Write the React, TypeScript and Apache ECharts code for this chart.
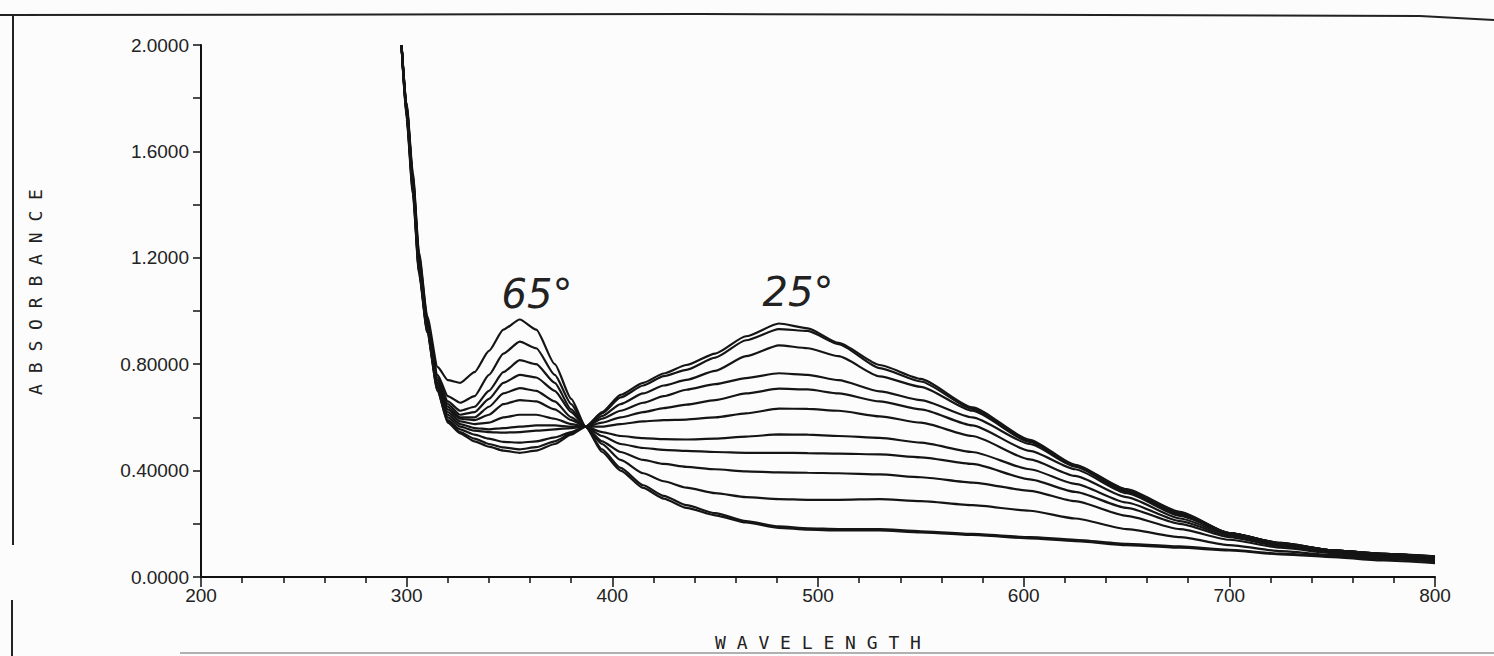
import React, { useEffect, useRef } from "react";
import * as echarts from "echarts";

// Wavelength sampling points (nm)
const wavelengths = [
  297.5, 300, 303, 306, 310, 315, 320, 326, 333, 340, 347, 355, 363, 372, 380, 387, 395, 404, 415, 425,
  436, 450, 465, 481, 495, 510, 530, 550, 575, 603, 625, 650, 676, 700, 725, 750, 775, 800,
];

// Absorbance spectra, from the 65° trace (c1) down to the 25° trace (c12)
const c1 = [2.0, 1.78, 1.52, 1.22, 0.98, 0.79, 0.74, 0.73, 0.77, 0.85, 0.93, 0.968, 0.93, 0.8, 0.67, 0.565, 0.47, 0.4, 0.335, 0.295, 0.26, 0.232, 0.205, 0.185, 0.178, 0.175, 0.175, 0.168, 0.158, 0.145, 0.135, 0.12, 0.11, 0.1, 0.085, 0.075, 0.062, 0.052];
const c2 = [2.0, 1.77, 1.51, 1.21, 0.97, 0.76, 0.68, 0.655, 0.68, 0.76, 0.84, 0.885, 0.86, 0.76, 0.65, 0.565, 0.48, 0.41, 0.345, 0.305, 0.27, 0.24, 0.21, 0.19, 0.183, 0.18, 0.18, 0.172, 0.162, 0.15, 0.14, 0.125, 0.115, 0.102, 0.088, 0.078, 0.067, 0.058];
const c3 = [2.0, 1.77, 1.5, 1.2, 0.96, 0.75, 0.66, 0.625, 0.64, 0.7, 0.77, 0.815, 0.8, 0.73, 0.63, 0.565, 0.5, 0.44, 0.39, 0.36, 0.336, 0.315, 0.3, 0.293, 0.29, 0.29, 0.293, 0.285, 0.27, 0.249, 0.22, 0.18, 0.15, 0.12, 0.097, 0.083, 0.072, 0.062];
const c4 = [2.0, 1.76, 1.5, 1.19, 0.96, 0.74, 0.65, 0.61, 0.62, 0.67, 0.73, 0.76, 0.75, 0.7, 0.62, 0.565, 0.51, 0.47, 0.44, 0.425, 0.414, 0.405, 0.397, 0.393, 0.392, 0.39, 0.386, 0.375, 0.355, 0.324, 0.285, 0.23, 0.18, 0.14, 0.11, 0.09, 0.077, 0.066];
const c5 = [2.0, 1.76, 1.49, 1.19, 0.95, 0.73, 0.64, 0.6, 0.6, 0.64, 0.69, 0.71, 0.7, 0.66, 0.6, 0.565, 0.53, 0.5, 0.485, 0.478, 0.474, 0.47, 0.467, 0.467, 0.466, 0.464, 0.461, 0.45, 0.425, 0.367, 0.32, 0.26, 0.2, 0.15, 0.115, 0.095, 0.08, 0.068];
const c6 = [2.0, 1.75, 1.49, 1.18, 0.95, 0.73, 0.63, 0.595, 0.59, 0.61, 0.65, 0.665, 0.66, 0.63, 0.59, 0.565, 0.545, 0.53, 0.522, 0.518, 0.517, 0.52, 0.528, 0.536, 0.535, 0.53, 0.523, 0.505, 0.47, 0.405, 0.35, 0.28, 0.21, 0.155, 0.12, 0.098, 0.082, 0.07];
const c7 = [2.0, 1.75, 1.48, 1.17, 0.94, 0.72, 0.62, 0.585, 0.575, 0.58, 0.6, 0.61, 0.61, 0.595, 0.575, 0.565, 0.565, 0.575, 0.585, 0.59, 0.592, 0.6, 0.615, 0.633, 0.632, 0.625, 0.604, 0.58, 0.53, 0.442, 0.38, 0.3, 0.22, 0.16, 0.125, 0.1, 0.085, 0.072];
const c8 = [2.0, 1.74, 1.47, 1.17, 0.94, 0.72, 0.61, 0.575, 0.56, 0.555, 0.56, 0.565, 0.57, 0.57, 0.565, 0.565, 0.58, 0.6, 0.62, 0.635, 0.648, 0.665, 0.69, 0.708, 0.705, 0.69, 0.66, 0.63, 0.57, 0.474, 0.405, 0.315, 0.23, 0.165, 0.128, 0.1, 0.087, 0.074];
const c9 = [2.0, 1.74, 1.47, 1.16, 0.93, 0.71, 0.6, 0.565, 0.55, 0.545, 0.543, 0.545, 0.55, 0.555, 0.56, 0.565, 0.595, 0.625, 0.655, 0.68, 0.704, 0.725, 0.748, 0.766, 0.76, 0.74, 0.698, 0.665, 0.6, 0.5, 0.415, 0.32, 0.235, 0.165, 0.128, 0.1, 0.087, 0.075];
const c10 = [2.0, 1.73, 1.46, 1.15, 0.93, 0.71, 0.59, 0.555, 0.535, 0.52, 0.508, 0.505, 0.51, 0.525, 0.545, 0.565, 0.605, 0.65, 0.69, 0.72, 0.741, 0.775, 0.83, 0.871, 0.86, 0.83, 0.754, 0.715, 0.625, 0.508, 0.418, 0.325, 0.24, 0.165, 0.126, 0.1, 0.087, 0.076];
const c11 = [2.0, 1.73, 1.45, 1.15, 0.92, 0.7, 0.585, 0.545, 0.52, 0.5, 0.487, 0.48, 0.488, 0.51, 0.54, 0.565, 0.615, 0.675, 0.72, 0.755, 0.779, 0.825, 0.89, 0.932, 0.925, 0.875, 0.785, 0.735, 0.632, 0.512, 0.42, 0.328, 0.243, 0.165, 0.126, 0.1, 0.087, 0.077];
const c12 = [2.0, 1.72, 1.44, 1.14, 0.92, 0.7, 0.58, 0.54, 0.51, 0.49, 0.475, 0.467, 0.475, 0.5, 0.535, 0.565, 0.62, 0.685, 0.73, 0.765, 0.797, 0.84, 0.905, 0.953, 0.935, 0.88, 0.797, 0.745, 0.638, 0.516, 0.422, 0.33, 0.245, 0.165, 0.126, 0.1, 0.087, 0.078];

const curves = [c1, c2, c3, c4, c5, c6, c7, c8, c9, c10, c11, c12];

const yTickValues = [0, 0.4, 0.8, 1.2, 1.6, 2.0];
const yTickLabels = ["0.0000", "0.40000", "0.80000", "1.2000", "1.6000", "2.0000"];

const xAxisTitle = "W A V E L E N G T H";
const yAxisTitle = "A B S O R B A N C E";
const annotations = ["65°", "25°"];

export default function App() {
  const ref = useRef<HTMLDivElement>(null);

  useEffect(() => {
    if (!ref.current) return;
    const chart = echarts.init(ref.current, null, { renderer: "svg" });
    const labelFont = "'Liberation Sans', Arial, sans-serif";
    const monoFont = "'DejaVu Sans Mono', monospace";

    chart.setOption({
      animation: false,
      backgroundColor: "#fcfcfc",
      grid: { left: 201, right: 59, top: 45, bottom: 76, containLabel: false },
      xAxis: {
        type: "value",
        min: 200,
        max: 800,
        interval: 100,
        name: xAxisTitle,
        nameLocation: "middle",
        nameGap: 56,
        nameTextStyle: { fontFamily: monoFont, fontSize: 18, color: "#222" },
        axisLine: { show: true, onZero: false, lineStyle: { color: "#111", width: 2 } },
        axisTick: { show: true, length: 10, lineStyle: { color: "#111", width: 1.5 } },
        minorTick: { show: true, splitNumber: 5, length: 6, lineStyle: { color: "#111", width: 1.5 } },
        splitLine: { show: false },
        axisLabel: { fontFamily: labelFont, fontSize: 19, color: "#222", margin: 9 },
      },
      yAxis: {
        type: "value",
        min: 0,
        max: 2,
        interval: 0.4,
        axisLine: { show: true, lineStyle: { color: "#111", width: 2 } },
        axisTick: { show: true, length: 8, lineStyle: { color: "#111", width: 1.5 } },
        minorTick: { show: true, splitNumber: 2, length: 8, lineStyle: { color: "#111", width: 1.5 } },
        splitLine: { show: false },
        axisLabel: {
          fontFamily: labelFont,
          fontSize: 19,
          color: "#222",
          margin: 12,
          formatter: (v: number) => {
            const idx = yTickValues.findIndex((t) => Math.abs(t - v) < 1e-6);
            return idx >= 0 ? yTickLabels[idx] : "";
          },
        },
      },
      series: curves.map((c, k) => ({
        type: "line",
        name: `trace ${k + 1}`,
        showSymbol: false,
        smooth: 0.2,
        smoothMonotone: "x",
        lineStyle: { color: "#151515", width: 2.2 },
        data: wavelengths.map((w, i) => [w, c[i]]),
      })),
      graphic: [
        {
          type: "polyline",
          shape: { points: [[0, 15], [700, 14], [1100, 15], [1420, 16], [1494, 20]] },
          style: { stroke: "#222", lineWidth: 2, fill: "none" },
        },
        { type: "line", shape: { x1: 13, y1: 15, x2: 13, y2: 545 }, style: { stroke: "#222", lineWidth: 2 } },
        { type: "line", shape: { x1: 12, y1: 600, x2: 12, y2: 656 }, style: { stroke: "#222", lineWidth: 2 } },
        { type: "line", shape: { x1: 180, y1: 653, x2: 1494, y2: 653 }, style: { stroke: "#999", lineWidth: 1.5 } },
        {
          type: "text",
          x: 35,
          y: 292,
          rotation: Math.PI / 2,
          style: {
            text: yAxisTitle,
            fontSize: 18,
            fontFamily: monoFont,
            fill: "#222",
            align: "center",
            verticalAlign: "middle",
          },
        },
        {
          type: "text",
          x: 537,
          y: 294,
          style: {
            text: annotations[0],
            fontSize: 40,
            fontStyle: "italic",
            fontWeight: "lighter",
            fontFamily: "'DejaVu Sans', sans-serif",
            fill: "#222",
            align: "center",
            verticalAlign: "middle",
          },
        },
        {
          type: "text",
          x: 798,
          y: 292,
          style: {
            text: annotations[1],
            fontSize: 40,
            fontStyle: "italic",
            fontWeight: "lighter",
            fontFamily: "'DejaVu Sans', sans-serif",
            fill: "#222",
            align: "center",
            verticalAlign: "middle",
          },
        },
      ],
    });

    return () => chart.dispose();
  }, []);

  return <div ref={ref} style={{ position: "absolute", left: 0, top: 0, width: 1494, height: 656 }} />;
}
